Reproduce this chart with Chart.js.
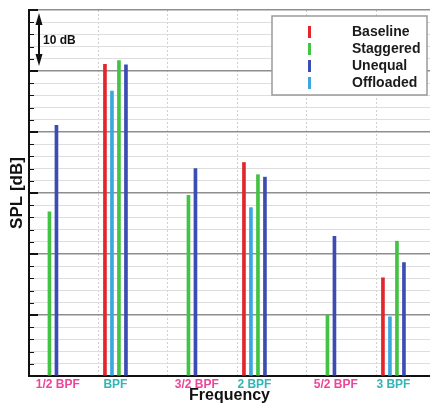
<!DOCTYPE html>
<html lang="en">
<head>
<meta charset="UTF-8">
<title>SPL spectrum</title>
<script src="https://cdn.jsdelivr.net/npm/chart.js@4.4.1/dist/chart.umd.min.js"></script>
<style>
  html, body { margin: 0; padding: 0; background: #fff; }
</style>
</head>
<body>
<canvas id="chart" width="430" height="405"></canvas>
<script>
// harmonics of the blade passing frequency
var harmonics = [0.5, 1, 1.5, 2, 2.5, 3];
var harmonicNames = ["1/2 BPF", "BPF", "3/2 BPF", "2 BPF", "5/2 BPF", "3 BPF"];

// tonal peaks in dB above the bottom of the axis (null = no peak)
var baseline  = [null, 51.1, null, 35.0, null, 16.1];
var offloaded = [null, 46.7, null, 27.6, null, 9.7];
var staggered = [26.9, 51.7, 29.6, 33.0, 10.0, 22.1];
var unequal   = [41.1, 51.0, 34.0, 32.6, 22.9, 18.6];

// order of the bars inside a group, and order in the key
var series = [
    { label: "Baseline", values: baseline, color: "#e2262c" },
    { label: "Offloaded", values: offloaded, color: "#3ba7de" },
    { label: "Staggered", values: staggered, color: "#43c343" },
    { label: "Unequal", values: unequal, color: "#3b4cb2" }
];
var legendOrder = ["Baseline", "Staggered", "Unequal", "Offloaded"];

// frequency axis range in multiples of BPF
var xMin = 0.378, xMax = 3.263;
var labelShift = 0.085;

var font = "'Liberation Sans', Arial, sans-serif";
Chart.defaults.font.family = font;

function points(values) {
    var pts = [];
    values.forEach(function (v, i) {
        if (v !== null) pts.push({ x: harmonics[i], y: v });
    });
    return pts;
}

// tick marks inside the SPL axis, the 10 dB scale arrow and the key box
var extras = {
    id: "extras",
    afterDraw: function (chart) {
        var ctx = chart.ctx, area = chart.chartArea, y = chart.scales.y;
        ctx.save();
        ctx.strokeStyle = "#111";
        for (var v = 0; v <= 60; v += 2) {
            var major = v % 10 === 0;
            var py = Math.round(y.getPixelForValue(v)) + (major ? 0 : 0.5);
            ctx.lineWidth = major ? 2 : 1;
            ctx.beginPath();
            ctx.moveTo(area.left, py);
            ctx.lineTo(area.left + (major ? 9 : 5), py);
            ctx.stroke();
        }

        // 10 dB arrow
        var top = y.getPixelForValue(60) + 3, bot = y.getPixelForValue(50) - 5;
        var ax = area.left + 10;
        ctx.fillStyle = "#111";
        ctx.lineWidth = 2;
        ctx.beginPath();
        ctx.moveTo(ax, top + 8);
        ctx.lineTo(ax, bot - 8);
        ctx.stroke();
        ctx.beginPath();
        ctx.moveTo(ax, top);
        ctx.lineTo(ax - 3.5, top + 12);
        ctx.lineTo(ax + 3.5, top + 12);
        ctx.closePath();
        ctx.fill();
        ctx.beginPath();
        ctx.moveTo(ax, bot);
        ctx.lineTo(ax - 3.5, bot - 12);
        ctx.lineTo(ax + 3.5, bot - 12);
        ctx.closePath();
        ctx.fill();
        ctx.font = "bold 12px " + font;
        ctx.textBaseline = "middle";
        ctx.fillText("10 dB", ax + 4, (y.getPixelForValue(60) + y.getPixelForValue(50)) / 2);

        // key
        var bx = 272, by = 16, bw = 155, bh = 79;
        ctx.fillStyle = "#fff";
        ctx.fillRect(bx, by, bw, bh);
        ctx.strokeStyle = "#9a9a9a";
        ctx.lineWidth = 1.5;
        ctx.strokeRect(bx, by, bw, bh);
        ctx.font = "bold 14px " + font;
        legendOrder.forEach(function (name, i) {
            var s = series.filter(function (d) { return d.label === name; })[0];
            var cy = by + 16 + i * 17;
            ctx.strokeStyle = s.color;
            ctx.lineWidth = 3;
            ctx.beginPath();
            ctx.moveTo(bx + 37.5, cy - 6);
            ctx.lineTo(bx + 37.5, cy + 6);
            ctx.stroke();
            ctx.fillStyle = "#1a1a1a";
            ctx.fillText(name, bx + 80, cy);
        });
        ctx.restore();
    }
};

new Chart(document.getElementById("chart"), {
    type: "bar",
    data: {
        datasets: series.map(function (s) {
            return {
                label: s.label,
                data: points(s.values),
                backgroundColor: s.color,
                borderWidth: 0,
                barThickness: 7,
                maxBarThickness: 3
            };
        })
    },
    plugins: [extras],
    options: {
        responsive: false,
        animation: false,
        layout: { padding: { top: 10, right: 0, bottom: 0, left: 0 } },
        plugins: {
            legend: { display: false },
            tooltip: { enabled: false }
        },
        scales: {
            x: {
                type: "linear",
                min: xMin,
                max: xMax,
                offset: false,
                grid: {
                    offset: false,
                    drawTicks: false,
                    color: function (c) { return c.tick && c.tick.grid ? "#cfcfcf" : "rgba(0,0,0,0)"; },
                    lineWidth: 1
                },
                border: { display: true, color: "#111", width: 2, dash: [2, 2] },
                afterBuildTicks: function (scale) {
                    var ticks = [];
                    for (var v = xMin + 0.5; v < xMax; v += 0.5) ticks.push({ value: v, grid: true });
                    harmonics.forEach(function (h, i) {
                        var half = h % 1 !== 0;
                        ticks.push({ value: half ? h + labelShift : h, name: harmonicNames[i], half: half });
                    });
                    ticks.sort(function (a, b) { return a.value - b.value; });
                    scale.ticks = ticks;
                },
                ticks: {
                    autoSkip: false,
                    maxRotation: 0,
                    padding: 1,
                    font: { size: 12, weight: "bold" },
                    color: function (c) { return c.tick && c.tick.half ? "#ee4499" : "#31b5b5"; },
                    callback: function (value, index, ticks) { return ticks[index].name || ""; }
                },
                title: {
                    display: true,
                    text: "Frequency",
                    color: "#111",
                    font: { size: 16, weight: "bold" },
                    padding: { top: 0, bottom: 0 }
                },
                afterFit: function (scale) { scale.height = 29; }
            },
            y: {
                min: 0,
                max: 60,
                ticks: { display: false, stepSize: 2 },
                grid: {
                    drawTicks: false,
                    color: function (c) { return c.tick.value % 10 === 0 ? "#8e8e8e" : "#dedede"; },
                    lineWidth: function (c) { return c.tick.value % 10 === 0 ? 1.5 : 1; }
                },
                border: { color: "#111", width: 2 },
                title: {
                    display: true,
                    text: "SPL [dB]",
                    color: "#111",
                    font: { size: 17, weight: "bold" },
                    padding: { top: 7, bottom: 0 }
                },
                afterFit: function (scale) { scale.width = 29; }
            }
        }
    }
});
</script>
</body>
</html>
